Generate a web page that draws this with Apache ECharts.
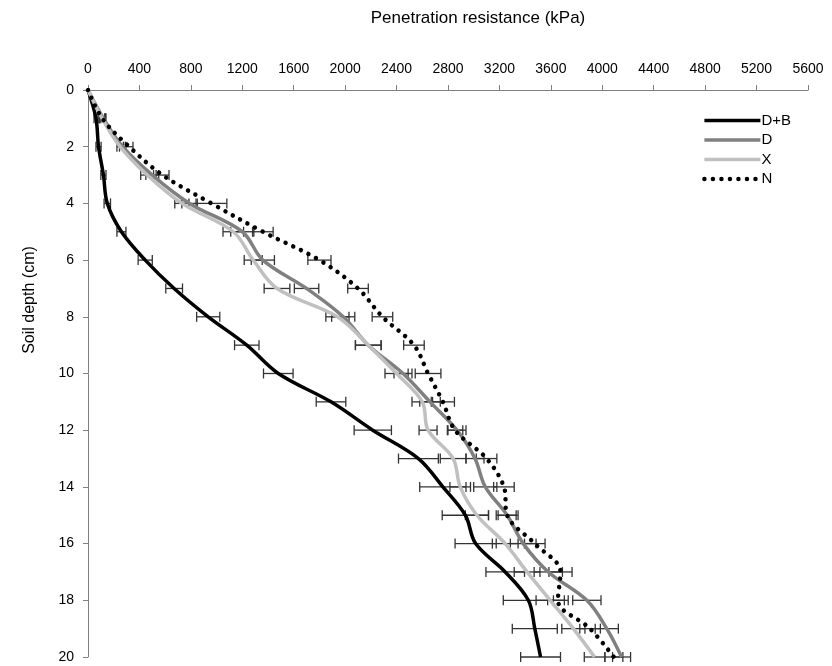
<!DOCTYPE html>
<html><head><meta charset="utf-8">
<script src="https://cdn.jsdelivr.net/npm/echarts@6/dist/echarts.min.js"></script>
<style>html,body{margin:0;padding:0;background:#fff}#c{width:832px;height:666px}</style>
</head><body><div id="c"></div>
<script>
const depth = [0,1,2,3,4,5,6,7,8,9,10,11,12,13,14,15,16,17,18,19,20];
const xTicks = [0,400,800,1200,1600,2000,2400,2800,3200,3600,4000,4400,4800,5200,5600];
const seriesNames = ['D+B','D','X','N'];
const dbMean = [0,62,82,120,150,260,445,670,935,1235,1480,1890,2215,2570,2760,2935,3015,3245,3425,3475,3520];
const dMean  = [0,120,270,500,790,1200,1360,1700,1985,2180,2450,2660,2870,3010,3090,3260,3385,3580,3880,4035,4150];
const xMean  = [0,110,250,460,730,1130,1285,1470,1940,2180,2400,2600,2645,2840,2895,3025,3245,3415,3595,3775,3940];
const nMean  = [0,110,320,580,960,1360,1800,2100,2290,2535,2645,2760,2855,3100,3235,3260,3475,3675,3655,3905,4090];
const dbErr = [0,15,20,20,25,35,55,65,90,95,115,115,145,155,180,180,160,150,195,175,155];
const dErr  = [0,20,25,50,60,90,90,95,90,100,70,80,70,70,90,85,100,110,110,90,70];
const xErr  = [0,20,25,50,55,80,70,100,90,100,90,80,70,100,80,90,100,100,110,90,80];
const nErr  = [0,25,30,50,120,80,90,80,80,80,100,90,60,80,80,70,80,90,80,80,70];

const means = [dbMean,dMean,xMean,nMean];
const errs = [dbErr,dErr,xErr,nErr];
const colors = ['#000000','#808080','#c0c0c0','#000000'];
const lineStyles = [
  {color:'#000', width:3.5},
  {color:'#808080', width:3.5},
  {color:'#c0c0c0', width:3.5},
  {color:'#000', width:4.5, type:[0.01,8.5], cap:'round'}
];
const FONT = 'Liberation Sans, Arial, sans-serif';

const series = [];
means.forEach((m,i)=>{
  const data = depth.map((d,k)=>[d, m[k]-errs[i][k], m[k]+errs[i][k]]);
  series.push({
    type:'custom', name: seriesNames[i]+'_err', silent:true, z:1,
    data: data,
    encode:{x:[1,2], y:0},
    renderItem: function(params, api){
      const d = api.value(0), lo = api.value(1), hi = api.value(2);
      if (hi - lo <= 0) return null;
      const p1 = api.coord([lo,d]), p2 = api.coord([hi,d]);
      const h = 5;
      const st = {stroke:'#333', lineWidth:1.3};
      return {type:'group', children:[
        {type:'line', shape:{x1:p1[0],y1:p1[1],x2:p2[0],y2:p2[1]}, style:st},
        {type:'line', shape:{x1:p1[0],y1:p1[1]-h,x2:p1[0],y2:p1[1]+h}, style:st},
        {type:'line', shape:{x1:p2[0],y1:p2[1]-h,x2:p2[0],y2:p2[1]+h}, style:st}
      ]};
    }
  });
});
means.forEach((m,i)=>{
  series.push({
    type:'line', name: seriesNames[i], z:3,
    data: depth.map((d,k)=>[m[k], d]),
    smooth:0.35, showSymbol:false, symbol:'none',
    color: colors[i],
    lineStyle: lineStyles[i]
  });
});

const chart = echarts.init(document.getElementById('c'), null, {renderer:'canvas'});
chart.setOption({
  animation:false,
  backgroundColor:'#fff',
  textStyle:{fontFamily:FONT},
  grid:{left:88, right:24, top:90, bottom:9, containLabel:false, outerBoundsMode:'none'},
  legend:{
    data: seriesNames.map((n,i)=>({name:n, lineStyle: lineStyles[i], itemStyle:{opacity:0}})),
    orient:'vertical', right:36, top:108,
    itemWidth:56, itemHeight:14, itemGap:4.5,
    itemStyle:{opacity:0},
    textStyle:{fontSize:15, color:'#000', fontFamily:FONT, padding:[0,0,0,-4]}
  },
  graphic:[{type:'text', x:30, y:300, rotation:Math.PI/2,
    style:{text:'Soil depth (cm)', fill:'#000', font:'16px Liberation Sans, Arial, sans-serif', align:'center', verticalAlign:'middle'}}],
  xAxis:{
    type:'value', position:'top', min:0, max:5600, interval:400,
    name:'Penetration resistance (kPa)', nameLocation:'middle', nameGap:63,
    nameTextStyle:{fontSize:17, color:'#000', padding:[0,0,0,60]},
    axisLine:{show:true, lineStyle:{color:'#7f7f7f', width:1}},
    axisTick:{show:true, length:5, lineStyle:{color:'#7f7f7f'}},
    axisLabel:{fontSize:14, color:'#000', margin:14,
      formatter: v => xTicks.includes(v) ? String(v) : ''},
    splitLine:{show:false}
  },
  yAxis:{
    type:'value', inverse:true, min:0, max:20, interval:2,
    axisLine:{show:true, lineStyle:{color:'#7f7f7f', width:1}},
    axisTick:{show:true, length:5, lineStyle:{color:'#7f7f7f'}},
    axisLabel:{fontSize:14, color:'#000', margin:14},
    splitLine:{show:false}
  },
  series: series
});
</script></body></html>
